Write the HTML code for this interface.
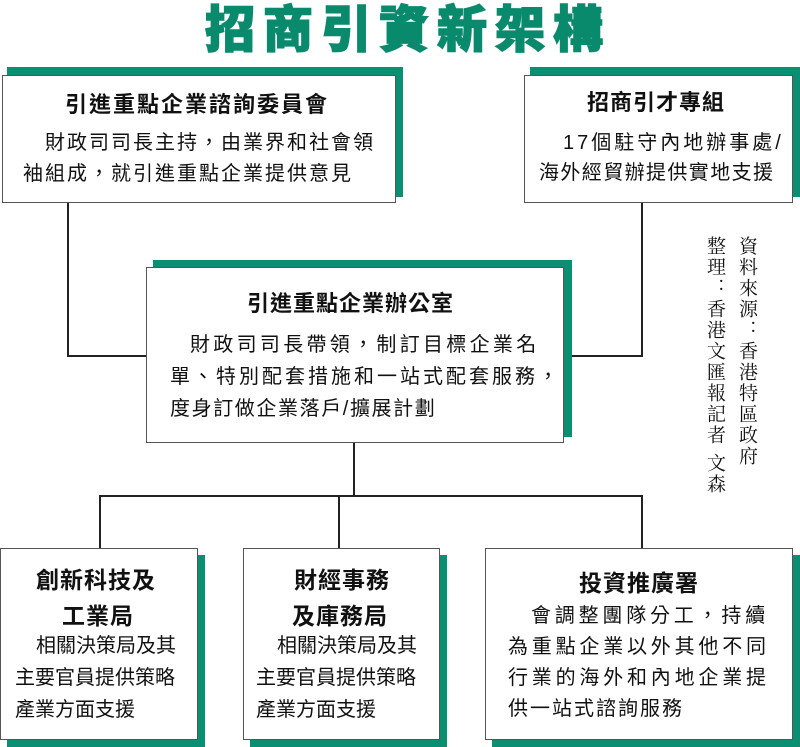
<!DOCTYPE html>
<html><head><meta charset="utf-8"><style>
body{margin:0;width:800px;height:747px;position:relative;background:#fff;overflow:hidden;font-family:"Liberation Sans","Noto Sans CJK TC",sans-serif;color:#111}
.sh{position:absolute;background:#0b8f72}
.bx{position:absolute;background:#fff;border:1.5px solid #555;box-sizing:border-box}
.ln{position:absolute;background:#222}
.t{position:absolute;white-space:nowrap;font-weight:bold;font-size:22px;line-height:26px}
.b{position:absolute;white-space:nowrap;font-size:20px;line-height:24px}
.v{position:absolute;writing-mode:vertical-rl;font-family:"Noto Serif CJK SC","Noto Serif CJK TC",serif;font-size:19px;letter-spacing:2px;line-height:22px}
</style></head><body>
<div style="position:absolute;left:0;width:800px;top:2px;text-align:center;font-size:50px;font-weight:900;color:#0a8a6c;letter-spacing:8px;line-height:56px;padding-left:8px;-webkit-text-stroke:1.5px #0a8a6c">招商引資新架構</div>

<div class="ln" style="left:67px;top:200px;width:2px;height:157px"></div>
<div class="ln" style="left:67px;top:355px;width:82px;height:2px"></div>
<div class="ln" style="left:641px;top:200px;width:2px;height:157px"></div>
<div class="ln" style="left:562px;top:355px;width:81px;height:2px"></div>
<div class="ln" style="left:353px;top:440px;width:2px;height:57px"></div>
<div class="ln" style="left:99px;top:495px;width:544px;height:2px"></div>
<div class="ln" style="left:99px;top:495px;width:2px;height:55px"></div>
<div class="ln" style="left:338px;top:495px;width:2px;height:55px"></div>
<div class="ln" style="left:641px;top:495px;width:2px;height:55px"></div>

<div class="sh" style="left:7px;top:67px;width:396px;height:130px"></div>
<div class="bx" style="left:2px;top:75px;width:394px;height:128px"></div>
<div class="t" style="left:65px;top:92px;letter-spacing:2px">引進重點企業諮詢委員會</div>
<div class="b" style="left:45px;top:131px;letter-spacing:2px">財政司司長主持，由業界和社會領</div>
<div class="b" style="left:23px;top:162px;letter-spacing:2px">袖組成，就引進重點企業提供意見</div>

<div class="sh" style="left:530px;top:67px;width:270px;height:130px"></div>
<div class="bx" style="left:524px;top:75px;width:269px;height:128px"></div>
<div class="t" style="left:587px;top:90px;letter-spacing:1px">招商引才專組</div>
<div class="b" style="left:563px;top:131px;letter-spacing:3px">17個駐守內地辦事處/</div>
<div class="b" style="left:539px;top:161px;letter-spacing:1.4px">海外經貿辦提供實地支援</div>

<div class="sh" style="left:153px;top:260px;width:419px;height:177px"></div>
<div class="bx" style="left:146px;top:267px;width:418px;height:176px"></div>
<div class="t" style="left:247px;top:291px;letter-spacing:1px">引進重點企業辦公室</div>
<div class="b" style="left:190px;top:333px;letter-spacing:3.3px">財政司司長帶領，制訂目標企業名</div>
<div class="b" style="left:170px;top:365px;letter-spacing:3px">單、特別配套措施和一站式配套服務，</div>
<div class="b" style="left:170px;top:397px;letter-spacing:1.6px">度身訂做企業落戶/擴展計劃</div>

<div class="sh" style="left:7px;top:555px;width:198px;height:192px"></div>
<div class="bx" style="left:0px;top:548px;width:198px;height:192px"></div>
<div class="t" style="left:36px;top:567px;font-size:23px;letter-spacing:1px">創新科技及</div>
<div class="t" style="left:62px;top:603px;font-size:23px;letter-spacing:1px">工業局</div>
<div class="b" style="left:36px;top:634px">相關決策局及其</div>
<div class="b" style="left:15px;top:666px">主要官員提供策略</div>
<div class="b" style="left:15px;top:698px">產業方面支援</div>

<div class="sh" style="left:250px;top:555px;width:197px;height:192px"></div>
<div class="bx" style="left:243px;top:548px;width:197px;height:192px"></div>
<div class="t" style="left:294px;top:567px;font-size:23px;letter-spacing:1px">財經事務</div>
<div class="t" style="left:292px;top:603px;font-size:23px;letter-spacing:1px">及庫務局</div>
<div class="b" style="left:277px;top:634px">相關決策局及其</div>
<div class="b" style="left:256px;top:666px">主要官員提供策略</div>
<div class="b" style="left:256px;top:698px">產業方面支援</div>

<div class="sh" style="left:492px;top:555px;width:308px;height:192px"></div>
<div class="bx" style="left:485px;top:548px;width:308px;height:192px"></div>
<div class="t" style="left:579px;top:570px;font-size:23px;letter-spacing:1px">投資推廣署</div>
<div class="b" style="left:531px;top:604px;letter-spacing:3.8px">會調整團隊分工，持續</div>
<div class="b" style="left:508px;top:635px;letter-spacing:3.8px">為重點企業以外其他不同</div>
<div class="b" style="left:508px;top:666px;letter-spacing:3.8px">行業的海外和內地企業提</div>
<div class="b" style="left:508px;top:697px;letter-spacing:2px">供一站式諮詢服務</div>

<div class="v" style="left:737px;top:236px">資料來源：香港特區政府</div>
<div class="v" style="left:705px;top:236px">整理：香港文匯報記者&nbsp;文森</div>
</body></html>
